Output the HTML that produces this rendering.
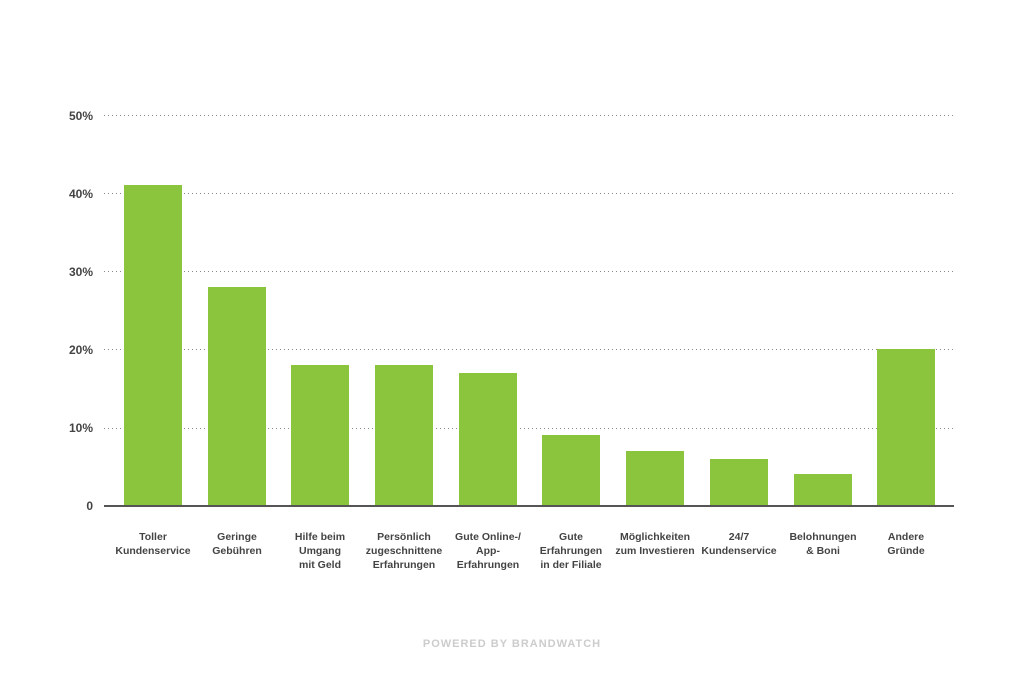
<!DOCTYPE html>
<html><head><meta charset="utf-8"><style>
body{margin:0;background:#fff}
text{font-family:"Liberation Sans",sans-serif;font-weight:bold}
</style></head><body>
<svg width="1024" height="679" xmlns="http://www.w3.org/2000/svg">
<g stroke="#888" stroke-width="1" stroke-dasharray="1,3">
<line x1="104" x2="954" y1="115.5" y2="115.5"/>
<line x1="104" x2="954" y1="193.5" y2="193.5"/>
<line x1="104" x2="954" y1="271.5" y2="271.5"/>
<line x1="104" x2="954" y1="349.5" y2="349.5"/>
<line x1="104" x2="954" y1="428.5" y2="428.5"/>
</g>
<g font-size="12" fill="#444" text-anchor="end">
<text x="93" y="120">50%</text>
<text x="93" y="198">40%</text>
<text x="93" y="276">30%</text>
<text x="93" y="354">20%</text>
<text x="93" y="432">10%</text>
<text x="93" y="510">0</text>
</g>
<g fill="#8bc53d">
<rect x="124" y="185" width="58" height="321"/>
<rect x="208" y="287" width="58" height="219"/>
<rect x="291" y="365" width="58" height="141"/>
<rect x="375" y="365" width="58" height="141"/>
<rect x="459" y="373" width="58" height="133"/>
<rect x="542" y="435" width="58" height="71"/>
<rect x="626" y="451" width="58" height="55"/>
<rect x="710" y="459" width="58" height="47"/>
<rect x="794" y="474" width="58" height="32"/>
<rect x="877" y="349" width="58" height="157"/>
</g>
<line x1="104" x2="954" y1="506" y2="506" stroke="#555" stroke-width="2"/>
<g font-size="10.5" fill="#444" text-anchor="middle">
<text x="153" y="540">Toller</text><text x="153" y="554">Kundenservice</text>
<text x="237" y="540">Geringe</text><text x="237" y="554">Gebühren</text>
<text x="320" y="540">Hilfe beim</text><text x="320" y="554">Umgang</text><text x="320" y="568">mit Geld</text>
<text x="404" y="540">Persönlich</text><text x="404" y="554">zugeschnittene</text><text x="404" y="568">Erfahrungen</text>
<text x="488" y="540">Gute Online-/</text><text x="488" y="554">App-</text><text x="488" y="568">Erfahrungen</text>
<text x="571" y="540">Gute</text><text x="571" y="554">Erfahrungen</text><text x="571" y="568">in der Filiale</text>
<text x="655" y="540">Möglichkeiten</text><text x="655" y="554">zum Investieren</text>
<text x="739" y="540">24/7</text><text x="739" y="554">Kundenservice</text>
<text x="823" y="540">Belohnungen</text><text x="823" y="554">&amp; Boni</text>
<text x="906" y="540">Andere</text><text x="906" y="554">Gründe</text>
</g>
<text x="512" y="647" font-size="11" fill="#ccc" text-anchor="middle" letter-spacing="1">POWERED BY BRANDWATCH</text>
</svg>
</body></html>
